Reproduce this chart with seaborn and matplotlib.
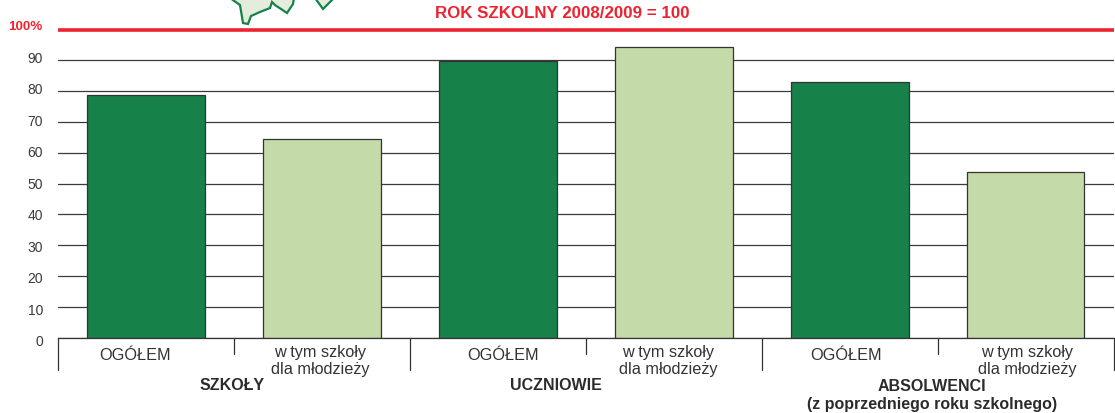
import matplotlib
matplotlib.use("Agg")
import matplotlib.pyplot as plt
from matplotlib.patches import Polygon
from matplotlib.transforms import blended_transform_factory, ScaledTranslation
import pandas as pd
import seaborn as sns

categories = ["SZ_OG", "SZ_MŁ", "UC_OG", "UC_MŁ", "AB_OG", "AB_MŁ"]
values = [78.8, 64.3, 89.8, 94.4, 83.0, 53.8]
kinds = ["OGÓŁEM", "młodzież", "OGÓŁEM", "młodzież", "OGÓŁEM", "młodzież"]
colors = {"OGÓŁEM": "#17814A", "młodzież": "#C4DAA8"}
sub_labels = ["OGÓŁEM", "w tym szkoły\ndla młodzieży"] * 3
group_labels = ["SZKOŁY", "UCZNIOWIE", "ABSOLWENCI\n(z poprzedniego roku szkolnego)"]
y_ticks = [0, 10, 20, 30, 40, 50, 60, 70, 80, 90]

sns.set_theme(style="white")
plt.rcParams["font.family"] = ["Liberation Sans", "DejaVu Sans"]

W, H = 1115, 413
fig = plt.figure(figsize=(W / 100, H / 100), dpi=100)
ax = fig.add_axes([58 / W, 1 - 337.5 / H, (1113.5 - 58) / W, (337.5 - 29.5) / H])

df = pd.DataFrame({"cat": categories, "val": values, "kind": kinds})
ax.yaxis.grid(True, color="#3a3a3a", linewidth=0.9)
ax.set_axisbelow(True)
sns.barplot(data=df, x="cat", y="val", hue="kind", palette=colors, dodge=False, saturation=1,
            width=0.67, edgecolor="#333333", linewidth=0.9, legend=False, ax=ax)

ax.set_xlim(-0.5, 5.5)
ax.set_ylim(0, 100)
ax.set_xlabel("")
ax.set_ylabel("")
ax.set_yticks(y_ticks)
ax.tick_params(axis="y", length=0, pad=10.8, labelsize=10, labelcolor="#3a3a3a")
# the source's tick labels drift slightly against the gridlines
for v, label in zip(y_ticks, ax.get_yticklabels()):
    dy = 3.0 - (90 - v) / 90 * 6.5
    label.set_transform(label.get_transform() + ScaledTranslation(0, dy / 100, fig.dpi_scale_trans))
ax.set_xticks([])
for s in ["top", "right", "left"]:
    ax.spines[s].set_visible(False)
ax.spines["bottom"].set_color("#333333")
ax.spines["bottom"].set_linewidth(0.9)

# 100 % reference line
ax.plot([0, 1], [100, 100], transform=ax.get_yaxis_transform(), color="#EE2330",
        linewidth=2.6, clip_on=False, solid_capstyle="butt", zorder=5)
fig.text(42.5 / W, 1 - 26.5 / H, "100%", ha="right", va="center",
         color="#EE2330", fontsize=9.6, fontweight="bold")
fig.text(562.5 / W, 1 - 13.5 / H, "ROK SZKOLNY 2008/2009 = 100", ha="center", va="center",
         color="#EE2330", fontsize=12.2, fontweight="bold")

# Category separators below the axis
trans = blended_transform_factory(ax.transData, fig.transFigure)
for i in range(7):
    x = i - 0.5
    y_end = 370 if i % 2 == 0 else 354
    ax.plot([x, x], [1 - 337.5 / H, 1 - y_end / H], transform=trans, color="#333333",
            linewidth=0.9, clip_on=False)

# Sub-labels and group labels
offsets = [-0.06, -0.01, 0.03, -0.03, -0.02, 0.01]
for i, lab in enumerate(sub_labels):
    two = "\n" in lab
    fig_y = 1 - (361 if two else 355.5) / H
    ax.text(i + offsets[i], fig_y, lab, transform=trans, ha="center",
            va="center", fontsize=11.7, color="#333333", linespacing=1.2)
group_x = [0.49, 2.33, 4.47]
group_y = [386, 386, 395.5]
for x, y, lab in zip(group_x, group_y, group_labels):
    ax.text(x, 1 - y / H, lab, transform=trans, ha="center", va="center", fontsize=11.5,
            fontweight="bold", color="#2b2b2b", linespacing=1.2)

# Fragment of the decorative map at the top edge
map_a = [(230, -2), (240, 5), (243, 23), (248, 24), (251, 16), (260, 12), (270, 8),
         (272, 2), (275, 5), (287, 13), (293, 4), (294, -2)]
map_b = [(315, -2), (323, 9), (334, -2)]
for pts in (map_a, map_b):
    fig.add_artist(Polygon([(x / W, 1 - y / H) for x, y in pts], closed=False,
                           transform=fig.transFigure, facecolor="#E6ECDC",
                           edgecolor="#17814A", linewidth=1.6))

fig.savefig("out.png", dpi=100, facecolor="white")
